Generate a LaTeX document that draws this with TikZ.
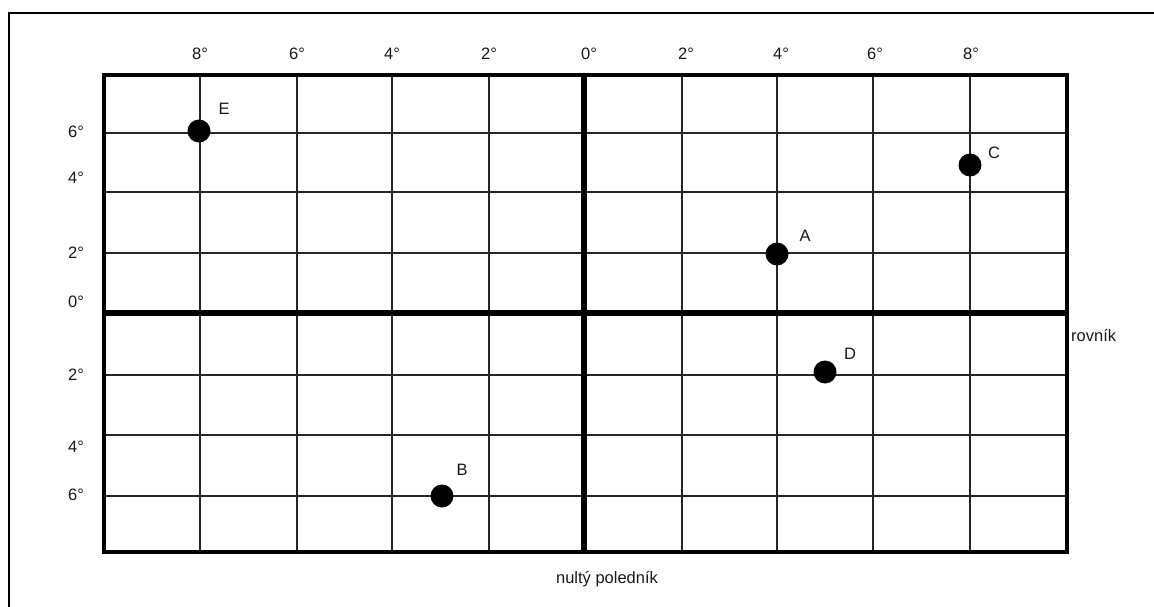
\documentclass[tikz,border=0pt]{standalone}
\usepackage{fontspec}
\setmainfont{Liberation Sans}
\begin{document}
\begin{tikzpicture}[x=1pt,y=-1pt,
  gridline/.style={line width=1.3pt,draw=black!85},
  frame/.style={line width=4.5pt,draw=black},
  axis/.style={line width=5.5pt,draw=black},
  outer/.style={line width=1.5pt,draw=black},
  lbl/.style={font=\fontsize{16.5}{19}\selectfont,inner sep=0pt,text=black!90},
  dot/.style={circle,fill=black,minimum size=23pt,inner sep=0pt}]
\useasboundingbox (0,0) rectangle (1154,607);
\fill[white] (0,0) rectangle (1154,607);
% outer frame (left and top)
\draw[outer] (9,607) -- (9,13) -- (1154,13);
% grid lines
\foreach \x in {200,297,392,489,682,777,873,970}
  \draw[gridline] (\x,75) -- (\x,552);
\foreach \y in {133,192,253,375,435,496}
  \draw[gridline] (104,\y) -- (1067,\y);
% equator and prime meridian
\draw[axis] (104,313) -- (1067,313);
\draw[axis] (584,75) -- (584,552);
% grid frame
\draw[frame] (104,75) rectangle (1067,552);
% top labels
\foreach \x/\t in {200/8,297/6,392/4,489/2,589/0,686/2,781/4,875/6,971/8}
  \node[lbl] at (\x,54) {\t°};
% left labels
\foreach \y/\t in {132/6,178/4,253/2,302/0,375/2,447/4,495/6}
  \node[lbl] at (76,\y) {\t°};
% points
\node[dot] (E) at (199,131) {};
\node[dot] (C) at (970,165) {};
\node[dot] (A) at (777,254) {};
\node[dot] (D) at (825,372) {};
\node[dot] (B) at (442,496) {};
\node[lbl] at (224,109) {E};
\node[lbl] at (994,153) {C};
\node[lbl] at (805,236) {A};
\node[lbl] at (850,354) {D};
\node[lbl] at (462,470) {B};
% axis names
\node[lbl,anchor=west] at (1071,336) {rovník};
\node[lbl] at (607,579) {nultý poledník};
\end{tikzpicture}
\end{document}
